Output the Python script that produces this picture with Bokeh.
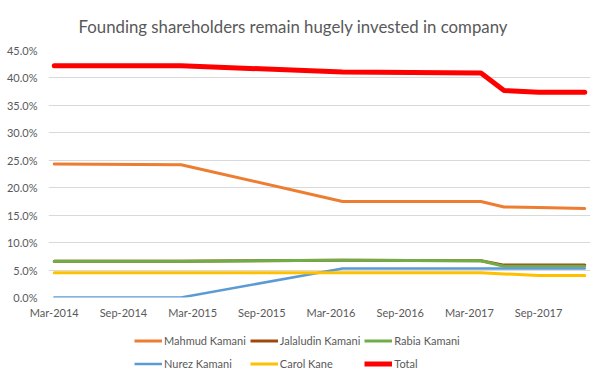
from bokeh.plotting import figure
from bokeh.layouts import column
from bokeh.models import Legend, LegendItem, FixedTicker, PrintfTickFormatter, Range1d
from bokeh.embed import file_html
from bokeh.resources import INLINE

# ---- data (percent of shares) ----
dates = ["2014-03", "2015-02", "2016-04", "2017-04", "2017-06", "2017-09", "2018-01"]
mahmud = [24.3, 24.2, 17.5, 17.5, 16.5, 16.4, 16.2]
jalaludin = [6.6, 6.6, 6.8, 6.7, 5.9, 5.9, 5.9]
rabia = [6.6, 6.6, 6.8, 6.7, 5.7, 5.7, 5.7]
nurez = [0.0, 0.0, 5.3, 5.3, 5.3, 5.3, 5.3]
carol = [4.5, 4.5, 4.5, 4.5, 4.3, 4.0, 4.0]
total = [42.2, 42.2, 41.1, 40.9, 37.7, 37.4, 37.4]

tick_months = ["2014-03", "2014-09", "2015-03", "2015-09", "2016-03", "2016-09", "2017-03", "2017-09"]
tick_labels = ["Mar-2014", "Sep-2014", "Mar-2015", "Sep-2015", "Mar-2016", "Sep-2016", "Mar-2017", "Sep-2017"]
y_ticks = [0, 5, 10, 15, 20, 25, 30, 35, 40, 45]

series = [
    ("Mahmud Kamani", mahmud, "#ED7D31", 3),
    ("Jalaludin Kamani", jalaludin, "#9E480E", 3),
    ("Rabia Kamani", rabia, "#70AD47", 3),
    ("Nurez Kamani", nurez, "#5B9BD5", 2.5),
    ("Carol Kane", carol, "#FFC000", 3),
    ("Total", total, "#FF0000", 5),
]


def month_index(s):
    y, m = map(int, s.split("-"))
    return (y - 2014) * 12 + (m - 3)


x = [month_index(d) for d in dates]
FONT = "Lato"
TXT = "#595959"

p = figure(frame_width=542, frame_height=247, output_backend="svg", toolbar_location=None,
           min_border_left=48, min_border_right=2, min_border_top=48, min_border_bottom=28,
           x_range=Range1d(-0.5, 46.5), y_range=Range1d(0, 45))
p.title.text = "Founding shareholders remain hugely invested in company"
p.title.text_font = FONT
p.title.text_font_size = "16.8px"
p.title.text_font_style = "normal"
p.title.text_color = TXT
p.title.text_line_height = 1.0
p.title.align = "left"
p.title.offset = 30
p.title.standoff = 27
p.outline_line_color = None
p.background_fill_color = "white"
p.border_fill_color = "white"

p.xgrid.visible = False
p.ygrid.grid_line_color = "#D9D9D9"
p.ygrid.grid_line_width = 1

p.yaxis.ticker = FixedTicker(ticks=y_ticks)
p.yaxis.formatter = PrintfTickFormatter(format="%.1f%%")
p.xaxis.ticker = FixedTicker(ticks=[month_index(t) for t in tick_months])
p.xaxis.major_label_overrides = {month_index(t): l for t, l in zip(tick_months, tick_labels)}
for ax in (p.xaxis[0], p.yaxis[0]):
    ax.axis_line_color = None
    ax.major_tick_line_color = None
    ax.minor_tick_line_color = None
    ax.major_tick_out = 0
    ax.major_tick_in = 0
    ax.minor_tick_out = 0
    ax.major_label_text_font = FONT
    ax.major_label_text_font_size = "11px"
    ax.major_label_text_color = TXT
p.xaxis.major_label_standoff = 8
p.yaxis.major_label_standoff = 11

for name, vals, color, w in series:
    p.line(x, vals, line_color=color, line_width=w, line_join="round", line_cap="round")

# legend strip below the chart (same series, drawn outside its visible range)
lg = figure(width=592, height=48, output_backend="svg", toolbar_location=None,
            min_border_left=0, min_border_right=0, min_border_top=0, min_border_bottom=0,
            x_axis_type=None, y_axis_type=None,
            x_range=Range1d(-0.5, 46.5), y_range=Range1d(1000, 1001))
lg.outline_line_color = None
lg.xgrid.visible = False
lg.ygrid.visible = False
items = []
for name, vals, color, w in series:
    r = lg.line(x, vals, line_color=color, line_width=w, line_cap="butt")
    items.append(LegendItem(label=name, renderers=[r]))

legend = Legend(items=items, orientation="horizontal", ncols=3, location=(86, 0),
                label_text_font=FONT, label_text_font_size="11px", label_text_color=TXT,
                glyph_width=28, glyph_height=19, label_height=19, label_standoff=2,
                spacing=4, padding=2, margin=0, border_line_color=None,
                background_fill_alpha=0)
lg.add_layout(legend, "center")

open("out.html", "w").write(file_html(column(p, lg, spacing=0), INLINE))
